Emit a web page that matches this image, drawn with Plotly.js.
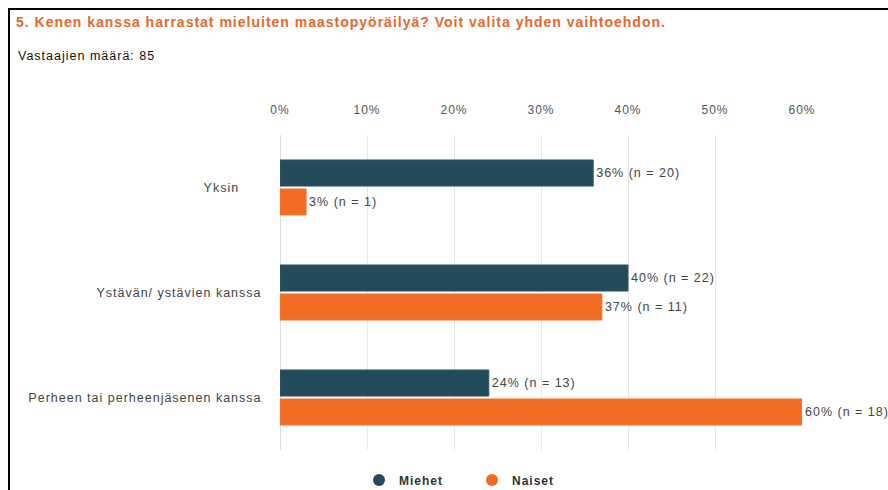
<!DOCTYPE html>
<html>
<head>
<meta charset="utf-8">
<script src="https://cdn.plot.ly/plotly-3.0.1.min.js"></script>
<style>
  html, body { margin: 0; padding: 0; background: #fff; width: 888px; height: 490px; overflow: hidden; }
  #chart { position: absolute; left: 0; top: 0; width: 888px; height: 490px; }
  #frame { position: absolute; left: 8px; top: 8px; width: 900px; height: 500px; border: 2px solid #000; pointer-events: none; }
  svg text { letter-spacing: 1px; }
</style>
</head>
<body>
<div id="chart"></div>
<div id="frame"></div>
<script>
const categories = ["Yksin", "Ystävän/ ystävien kanssa", "Perheen tai perheenjäsenen kanssa"];
const categoryLabels = ["Yksin\u00a0\u00a0\u00a0\u00a0\u00a0", "Ystävän/ ystävien kanssa", "Perheen tai perheenjäsenen kanssa"];
const seriesNames = ["Miehet", "Naiset"];
const miehetPct = [36, 40, 24];
const miehetN = [20, 22, 13];
const naisetPct = [3, 37, 60];
const naisetN = [1, 11, 18];
const tickVals = [0, 10, 20, 30, 40, 50, 60];
const tickText = ["0%", "10%", "20%", "30%", "40%", "50%", "60%"];
const titleText = "5. Kenen kanssa harrastat mieluiten maastopyöräilyä? Voit valita yhden vaihtoehdon.";
const subtitleText = "Vastaajien määrä: 85";

const colors = ["#234B5A", "#F26B22"];
const font = "Liberation Sans, Arial, sans-serif";

function labels(p, n) { return p.map((v, i) => v + "% (n = " + n[i] + ")"); }

const barBase = {
  type: "bar", orientation: "h", y: categories,
  textposition: "outside", cliponaxis: false, constraintext: "none",
  textfont: { family: font, size: 12.5, color: "#444" },
  hoverinfo: "skip", showlegend: false
};

const traces = [
  Object.assign({}, barBase, { name: seriesNames[0], x: miehetPct, text: labels(miehetPct, miehetN),
    marker: { color: colors[0], line: { color: "#2d5868", width: 1 } } }),
  Object.assign({}, barBase, { name: seriesNames[1], x: naisetPct, text: labels(naisetPct, naisetN),
    marker: { color: colors[1], line: { color: "#f07a3a", width: 1 } } }),
  { type: "scatter", mode: "markers", x: [null], y: [null], name: seriesNames[0],
    marker: { symbol: "circle", size: 12, color: colors[0] }, hoverinfo: "skip" },
  { type: "scatter", mode: "markers", x: [null], y: [null], name: seriesNames[1],
    marker: { symbol: "circle", size: 12, color: colors[1] }, hoverinfo: "skip" }
];

const W = 888, H = 490, L = 280, R = 86, T = 135, B = 40;
const pw = W - L - R;

const layout = {
  width: W, height: H,
  margin: { l: L, r: R, t: T, b: B, pad: 0 },
  paper_bgcolor: "#fff", plot_bgcolor: "#fff",
  barmode: "group", bargap: 0.448, bargroupgap: 0.1,
  font: { family: font, size: 12.5, color: "#333" },
  title: { text: titleText, font: { family: font, size: 14, color: "#E8682A", weight: "bold" },
    xref: "container", yref: "container", x: 16 / W, y: 1 - 22 / H, xanchor: "left", yanchor: "middle" },
  xaxis: {
    side: "top", range: [0, 60], tickvals: tickVals, ticktext: tickText,
    showgrid: true, gridcolor: "#e8e8e8", gridwidth: 1, zeroline: true, zerolinecolor: "#dcdcdc", zerolinewidth: 1,
    showline: false, ticks: "outside", ticklen: 15, tickcolor: "rgba(0,0,0,0)",
    tickfont: { family: font, size: 12, color: "#555" }, fixedrange: true
  },
  yaxis: {
    type: "category", autorange: "reversed", showgrid: false, zeroline: false, showline: false,
    tickvals: categories, ticktext: categoryLabels,
    ticks: "outside", ticklen: 15, tickcolor: "rgba(0,0,0,0)",
    tickfont: { family: font, size: 12.5, color: "#444" }, fixedrange: true
  },
  showlegend: true,
  legend: {
    orientation: "h", xref: "container", yref: "container", x: 359 / W, y: 1 - 480 / H,
    xanchor: "left", yanchor: "middle", entrywidth: 68, entrywidthmode: "pixels",
    font: { family: font, size: 12, color: "#333", weight: "bold" }, bgcolor: "rgba(0,0,0,0)"
  },
  annotations: [
    { text: subtitleText, xref: "paper", yref: "paper", x: (16 - L) / pw, y: 1 + (T - 56) / (H - T - B),
      xanchor: "left", yanchor: "middle", showarrow: false,
      font: { family: font, size: 12.5, color: "#111" } }
  ]
};

Plotly.newPlot("chart", traces, layout, { displayModeBar: false, staticPlot: true });
</script>
</body>
</html>
